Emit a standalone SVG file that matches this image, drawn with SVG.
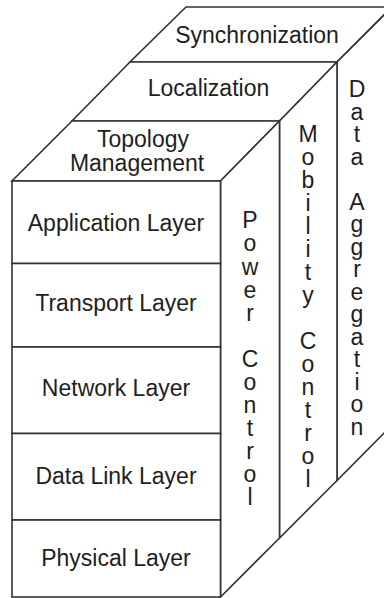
<svg xmlns="http://www.w3.org/2000/svg" width="384" height="598" viewBox="0 0 384 598">
  <style>
    .face { fill: #ffffff; stroke: #333333; stroke-width: 1.6; stroke-linejoin: miter; }
    .lbl { font-family: "Liberation Sans", Arial, sans-serif; font-size: 23px; fill: #1e1e1e; text-anchor: middle; }
  </style>
  <rect x="0" y="0" width="384" height="598" fill="#ffffff"/>

  <!-- top face: three stacked service planes -->
  <g id="synchronization">
    <polygon class="face" points="186,7 392,7 337,62 130,62"/>
    <text class="lbl" x="257" y="43">Synchronization</text>
  </g>
  <g id="localization">
    <polygon class="face" points="130,62 337,62 279.5,121 72,121"/>
    <text class="lbl" x="208.5" y="95.5">Localization</text>
  </g>
  <g id="topology-management">
    <polygon class="face" points="72,121 279.5,121 220.5,181 12,181"/>
    <text class="lbl" x="143" y="147">Topology</text>
    <text class="lbl" x="137" y="171">Management</text>
  </g>

  <!-- right face: cross-layer planes -->
  <g id="data-aggregation">
    <polygon class="face" points="337,62 392,7 392,425 337,480.5"/>
    <text class="lbl" x="357" y="97">D</text>
    <text class="lbl" x="357" y="119.5">a</text>
    <text class="lbl" x="357" y="142">t</text>
    <text class="lbl" x="357" y="164.5">a</text>
    <text class="lbl" x="357" y="209.5">A</text>
    <text class="lbl" x="357" y="232">g</text>
    <text class="lbl" x="357" y="254.5">g</text>
    <text class="lbl" x="357" y="277">r</text>
    <text class="lbl" x="357" y="299.5">e</text>
    <text class="lbl" x="357" y="322">g</text>
    <text class="lbl" x="357" y="344.5">a</text>
    <text class="lbl" x="357" y="367">t</text>
    <text class="lbl" x="357" y="389.5">i</text>
    <text class="lbl" x="357" y="412">o</text>
    <text class="lbl" x="357" y="434.5">n</text>
  </g>
  <g id="mobility-control">
    <polygon class="face" points="279.5,121 337,62 337,480.5 279.5,538"/>
    <text class="lbl" x="308" y="142">M</text>
    <text class="lbl" x="308" y="165">o</text>
    <text class="lbl" x="308" y="188">b</text>
    <text class="lbl" x="308" y="211">i</text>
    <text class="lbl" x="308" y="234">l</text>
    <text class="lbl" x="308" y="257">i</text>
    <text class="lbl" x="308" y="280">t</text>
    <text class="lbl" x="308" y="303">y</text>
    <text class="lbl" x="308" y="349">C</text>
    <text class="lbl" x="308" y="372">o</text>
    <text class="lbl" x="308" y="395">n</text>
    <text class="lbl" x="308" y="418">t</text>
    <text class="lbl" x="308" y="441">r</text>
    <text class="lbl" x="308" y="464">o</text>
    <text class="lbl" x="308" y="487">l</text>
  </g>
  <g id="power-control">
    <polygon class="face" points="220.5,181 279.5,121 279.5,538 220.5,597"/>
    <text class="lbl" x="250" y="228.3">P</text>
    <text class="lbl" x="250" y="251.4">o</text>
    <text class="lbl" x="250" y="274.5">w</text>
    <text class="lbl" x="250" y="297.5">e</text>
    <text class="lbl" x="250" y="320.6">r</text>
    <text class="lbl" x="250" y="366.8">C</text>
    <text class="lbl" x="250" y="389.9">o</text>
    <text class="lbl" x="250" y="413">n</text>
    <text class="lbl" x="250" y="436">t</text>
    <text class="lbl" x="250" y="459">r</text>
    <text class="lbl" x="250" y="482">o</text>
    <text class="lbl" x="250" y="505">l</text>
  </g>

  <!-- front face: protocol stack -->
  <g id="application-layer">
    <rect class="face" x="12" y="181" width="208.5" height="82.5"/>
    <text class="lbl" x="116" y="231">Application Layer</text>
  </g>
  <g id="transport-layer">
    <rect class="face" x="12" y="263.5" width="208.5" height="83.5"/>
    <text class="lbl" x="116" y="311">Transport Layer</text>
  </g>
  <g id="network-layer">
    <rect class="face" x="12" y="347" width="208.5" height="86.5"/>
    <text class="lbl" x="116" y="396">Network Layer</text>
  </g>
  <g id="data-link-layer">
    <rect class="face" x="12" y="433.5" width="208.5" height="86.5"/>
    <text class="lbl" x="116" y="484">Data Link Layer</text>
  </g>
  <g id="physical-layer">
    <rect class="face" x="12" y="520" width="208.5" height="77"/>
    <text class="lbl" x="116" y="566">Physical Layer</text>
  </g>
</svg>
